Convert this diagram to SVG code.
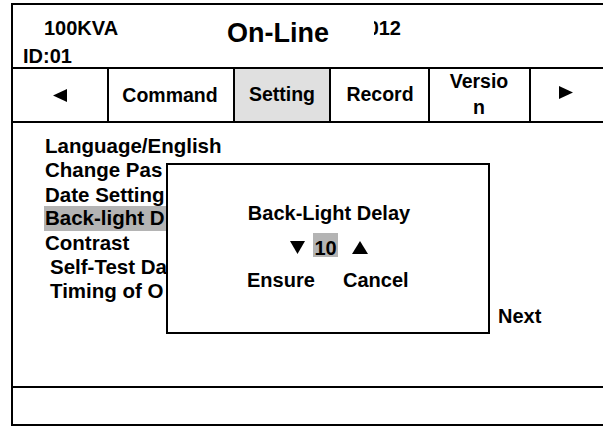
<svg xmlns="http://www.w3.org/2000/svg" width="603" height="427" viewBox="0 0 603 427">
<style>
  text { font-family: "Liberation Sans", Arial, sans-serif; font-weight: bold; fill: #000; }
  .ln { stroke: #000; stroke-width: 2; fill: none; }
  .t20 { font-size: 20px; }
  .tab { font-size: 19.5px; text-anchor: middle; }
  .menu { font-size: 20.5px; }
  .mid { text-anchor: middle; }
</style>
<defs>
  <clipPath id="clipNum"><rect x="374" y="10" width="40" height="40"/></clipPath>
</defs>
<rect x="0" y="0" width="603" height="427" fill="#fff"/>
<g id="frame">
  <rect class="ln" x="12" y="4" width="600" height="421"/>
  <line class="ln" x1="12" y1="387" x2="603" y2="387"/>
</g>
<g id="header">
  <text class="t20" x="44" y="35">100KVA</text>
  <text class="t20" x="23" y="63">ID:01</text>
  <text x="227" y="42" style="font-size:27px">On-Line</text>
  <text class="t20" x="401" y="35" text-anchor="end" clip-path="url(#clipNum)">012</text>
</g>
<g id="tabs">
  <rect x="234" y="68" width="96" height="54" fill="#e0e0e0"/>
  <line class="ln" x1="12" y1="68" x2="603" y2="68"/>
  <line class="ln" x1="12" y1="122" x2="603" y2="122"/>
  <line class="ln" x1="108" y1="68" x2="108" y2="122"/>
  <line class="ln" x1="234" y1="68" x2="234" y2="122"/>
  <line class="ln" x1="330" y1="68" x2="330" y2="122"/>
  <line class="ln" x1="429" y1="68" x2="429" y2="122"/>
  <line class="ln" x1="530" y1="68" x2="530" y2="122"/>
  <polygon points="53,95.5 67,89 67,102" fill="#000"/>
  <text class="tab" x="170" y="102">Command</text>
  <text class="tab" x="282" y="101">Setting</text>
  <text class="tab" x="380" y="101">Record</text>
  <text class="tab" x="479" y="88">Versio</text>
  <text class="tab" x="479" y="114">n</text>
  <polygon points="573,92.5 559,86 559,99" fill="#000"/>
</g>
<g id="menu">
  <rect x="44" y="206" width="130" height="25" fill="#b4b4b4"/>
  <text class="menu" x="45" y="153">Language/English</text>
  <text class="menu" x="45" y="177">Change Pas</text>
  <text class="menu" x="45" y="202">Date Setting</text>
  <text class="menu" x="45" y="225">Back-light D</text>
  <text class="menu" x="45" y="250">Contrast</text>
  <text class="menu" x="50" y="274">Self-Test Da</text>
  <text class="menu" x="50" y="298">Timing of O</text>
</g>
<g id="dialog">
  <rect x="167" y="164" width="322" height="169" fill="#fff" stroke="#000" stroke-width="2"/>
  <text class="t20 mid" x="329" y="220">Back-Light Delay</text>
  <polygon points="290,241 305,241 297.5,254" fill="#000"/>
  <rect x="313" y="233" width="25" height="24" fill="#b4b4b4"/>
  <text class="t20 mid" x="325.5" y="255">10</text>
  <polygon points="352,254 368,254 360,241" fill="#000"/>
  <text class="t20" x="247" y="287">Ensure</text>
  <text class="t20" x="343" y="287">Cancel</text>
</g>
<g id="next">
  <text class="t20" x="498" y="323">Next</text>
</g>
</svg>
